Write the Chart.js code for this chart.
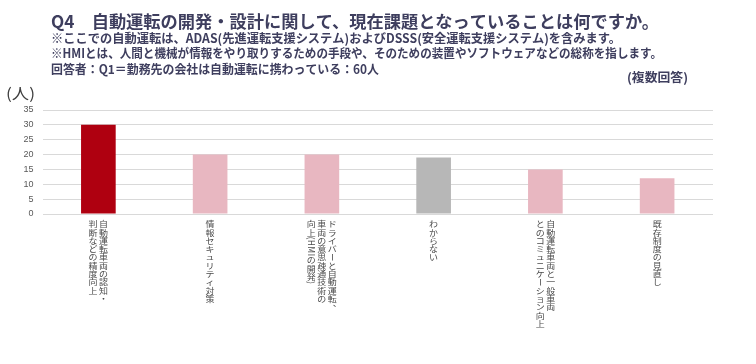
<!DOCTYPE html>
<html>
<head>
<meta charset="utf-8">
<script src="https://cdn.jsdelivr.net/npm/chart.js@4"></script>
<style>
  body { margin: 0; background: #fff; }
</style>
</head>
<body>
<canvas id="myChart" width="756" height="364"></canvas>
<script>
const categories = [
    ['自動運転車両の認知・', '判断などの精度向上'],
    ['情報セキュリティ対策'],
    ['ドライバーと自動運転、', '車両の意思疎通技術の', '向上(HMIの開発)'],
    ['わからない'],
    ['自動運転車両と一般車両', 'とのコミュニケーション向上'],
    ['既存制度の見直し']
];
const counts = [30, 20, 20, 19, 15, 12];
const barColors = ['#AF0010', '#E8B7C1', '#E8B7C1', '#B7B7B7', '#E8B7C1', '#E8B7C1'];
const yTicks = [0, 5, 10, 15, 20, 25, 30, 35];

const titleText = 'Q4　自動運転の開発・設計に関して、現在課題となっていることは何ですか。';
const noteLines = [
    '※ここでの自動運転は、ADAS(先進運転支援システム)およびDSSS(安全運転支援システム)を含みます。',
    '※HMIとは、人間と機械が情報をやり取りするための手段や、そのための装置やソフトウェアなどの総称を指します。',
    '回答者：Q1＝勤務先の会社は自動運転に携わっている：60人'
];
const multiNote = '(複数回答)';
const unitText = '(人)';

const jpFont = '"Noto Sans CJK JP", "Noto Sans", sans-serif';

// draws text squeezed/stretched to a given width
function fitText(ctx, text, x, y, w, size, color, weight) {
    ctx.save();
    ctx.font = (weight || 'normal') + ' ' + size + 'px ' + jpFont;
    ctx.fillStyle = color;
    ctx.textBaseline = 'middle';
    ctx.textAlign = 'left';
    const m = ctx.measureText(text).width;
    ctx.translate(x, y);
    ctx.scale(w / m, 1);
    ctx.fillText(text, 0, 0);
    ctx.restore();
}

const rotChars = 'ー()（）ABCDEFGHIJKLMNOPQRSTUVWXYZ';
const pitch = 8.3;

const textPlugin = {
    id: 'texts',
    afterDraw(chart) {
        const ctx = chart.ctx;
        const navy = '#3E3E5E';
        fitText(ctx, titleText, 51, 21.5, 608, 17, navy, 'bold');
        fitText(ctx, noteLines[0], 51, 38.5, 570, 12.5, navy, 'bold');
        fitText(ctx, noteLines[1], 51, 53.5, 611, 12.5, navy, 'bold');
        fitText(ctx, noteLines[2], 51, 69, 328, 12.5, navy, 'bold');
        fitText(ctx, multiNote, 627, 77.5, 61, 12.5, navy, 'bold');
        fitText(ctx, unitText, 6, 93, 29, 15, '#404040', 'normal');

        // vertical category labels, first line is the rightmost column
        const xs = chart.scales.x;
        ctx.save();
        ctx.fillStyle = '#4A4A4A';
        ctx.font = '9px ' + jpFont;
        ctx.textAlign = 'center';
        ctx.textBaseline = 'middle';
        categories.forEach((lines, i) => {
            const cx = xs.getPixelForValue(i);
            const n = lines.length;
            lines.forEach((line, j) => {
                const colX = cx + ((n - 1) / 2 - j) * 10.5;
                let y = 220;
                for (const ch of line) {
                    const rot = rotChars.indexOf(ch) >= 0;
                    const adv = rot && /[A-Z()]/.test(ch) ? ctx.measureText(ch).width : pitch;
                    ctx.save();
                    if (ch === '、' || ch === '。') {
                        ctx.translate(colX + 5, y + adv / 2 - 4);
                    } else {
                        ctx.translate(colX, y + adv / 2);
                    }
                    if (rot) {
                        ctx.rotate(Math.PI / 2);
                        ctx.scale(0.9, 1);
                    } else {
                        ctx.scale(1, 0.9);
                    }
                    ctx.fillText(ch, 0, 0);
                    ctx.restore();
                    y += adv;
                }
            });
        });
        ctx.restore();
    }
};

new Chart(document.getElementById('myChart'), {
    type: 'bar',
    data: {
        labels: categories,
        datasets: [{
            data: counts,
            backgroundColor: barColors,
            borderWidth: 0,
            barPercentage: 0.31,
            categoryPercentage: 1
        }]
    },
    options: {
        responsive: false,
        animation: false,
        layout: {
            padding: { top: 110, left: 0, right: 43, bottom: 0 }
        },
        plugins: {
            legend: { display: false },
            tooltip: { enabled: false }
        },
        scales: {
            x: {
                ticks: { display: false },
                grid: { display: false },
                border: { display: false },
                afterFit(scale) { scale.height = 150; }
            },
            y: {
                min: 0,
                max: 35,
                afterBuildTicks(scale) {
                    scale.ticks = yTicks.map(v => ({ value: v }));
                },
                ticks: {
                    color: '#595959',
                    font: { size: 9, family: '"Liberation Sans", sans-serif' },
                    padding: 9
                },
                grid: { color: '#D9D9D9', drawTicks: false, lineWidth: 1 },
                border: { display: false },
                afterFit(scale) { scale.width = 42.5; }
            }
        }
    },
    plugins: [textPlugin]
});
</script>
</body>
</html>
